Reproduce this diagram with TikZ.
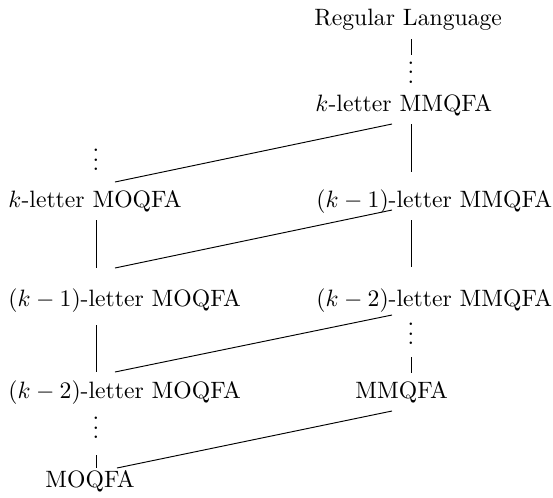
\documentclass[tikz,border=0pt]{standalone}
\usetikzlibrary{calc}
\newcommand{\myvdots}{\vbox{\baselineskip4pt\lineskiplimit0pt\hbox{.}\hbox{.}\hbox{.}}}
\begin{document}
\begin{tikzpicture}[x=0.4225pt,y=-0.4225pt,
  lbl/.style={inner sep=0pt, anchor=base west},
  dts/.style={inner sep=0pt, anchor=base},
  edge/.style={line width=0.4pt}]
\useasboundingbox (0,0) rectangle (553,497);
% right column
\node[lbl] (rl)  at (314,25)  {Regular Language};
\node[dts] (vd1) at (411,83)  {\myvdots};
\node[lbl] (mmk) at (315,111) {$k$-letter MMQFA};
\node[lbl] (mm1) at (316,207) {$(k-1)$-letter MMQFA};
\node[lbl] (mm2) at (316,306) {$(k-2)$-letter MMQFA};
\node[dts] (vd3) at (411,344.5) {\myvdots};
\node[lbl] (mm0) at (355,398) {MMQFA};
% left column
\node[dts] (vd2) at (96,170.5) {\myvdots};
\node[lbl] (mok) at (8,207)   {$k$-letter MOQFA};
\node[lbl] (mo1) at (8,306)   {$(k-1)$-letter MOQFA};
\node[lbl] (mo2) at (8,398)   {$(k-2)$-letter MOQFA};
\node[dts] (vd4) at (96,438.5) {\myvdots};
\node[lbl] (mo0) at (45,487)  {MOQFA};
% vertical connectors
\draw[edge] ($(rl.base west)+(97,14)$) -- ($(vd1.base)+(0,-28)$);
\draw[edge] ($(mmk.base west)+(96,13)$) -- ($(mm1.base west)+(95,-35)$);
\draw[edge] ($(mm1.base west)+(95,13)$) -- ($(mm2.base west)+(95,-39)$);
\draw[edge] ($(vd3.base)+(0,12.5)$) -- ($(mm0.base west)+(56,-25)$);
\draw[edge] ($(mok.base west)+(88,13)$) -- ($(mo1.base west)+(88,-38)$);
\draw[edge] ($(mo1.base west)+(88,19)$) -- ($(mo2.base west)+(88,-26)$);
\draw[edge] ($(vd4.base)+(0,16.5)$) -- ($(mo0.base west)+(51,-19)$);
% diagonal connectors
\draw[edge] ($(mmk.base west)+(77,13)$) -- ($(mok.base west)+(107,-25)$);
\draw[edge] ($(mm1.base west)+(76,3)$) -- ($(mo1.base west)+(107,-38)$);
\draw[edge] ($(mm2.base west)+(76,9)$) -- ($(mo2.base west)+(107,-26)$);
\draw[edge] ($(mm0.base west)+(37,13)$) -- ($(mo0.base west)+(72,-19)$);
\end{tikzpicture}
\end{document}
